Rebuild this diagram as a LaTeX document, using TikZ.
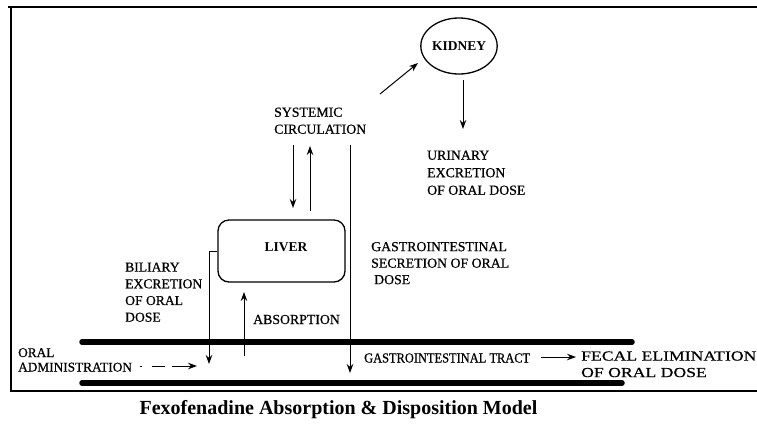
\documentclass[tikz,border=0pt]{standalone}
\usepackage{fontspec}
\setmainfont{Liberation Serif}
\newfontfamily\lblfont[FakeBold=0.6]{Liberation Serif}
\newfontfamily\widefont[FakeStretch=1.28,FakeBold=0.6]{Liberation Serif}
\newfontfamily\narrowfont[FakeStretch=0.9,FakeBold=0.6]{Liberation Serif}
\usetikzlibrary{shapes.geometric,arrows.meta}
\begin{document}
\begin{tikzpicture}[x=1pt,y=-1pt,
  lbl/.style={font=\lblfont\fontsize{13.8}{17}\selectfont, align=left, inner sep=0pt, anchor=north west},
  organ/.style={draw, line width=1.3pt, font=\bfseries\fontsize{13.5}{16}\selectfont, inner sep=0pt},
  arr/.style={-{Stealth[length=9pt,width=6.5pt]}, line width=1pt},
  bar/.style={line width=5.5pt, line cap=round},
  frame/.style={line width=1.2pt}]
\useasboundingbox (0,0) rectangle (757,424);
% frame
\draw[frame] (8,7) -- (757,7);
\draw[frame] (11,7) -- (11,391) -- (757,391);
% organs
\node[organ, ellipse, minimum width=66pt, minimum height=56pt] (kid) at (459,46) {KIDNEY};
\node[organ, rectangle, rounded corners=11pt, minimum width=127pt, minimum height=62pt] (liv) at (281.5,251) {};
\node[font=\bfseries\fontsize{13.5}{16}\selectfont, inner sep=0pt] (livt) at (286,247) {LIVER};
% labels
\node[lbl] (sys) at (274,107.4) {SYSTEMIC\\CIRCULATION};
\node[lbl, font=\lblfont\fontsize{13.8}{17.5}\selectfont] (uri) at (427,150.4) {URINARY\\EXCRETION\\OF ORAL DOSE};
\node[lbl, font=\lblfont\fontsize{13.6}{16.7}\selectfont] (bil) at (125,262.4) {BILIARY\\EXCRETION\\OF ORAL\\DOSE};
\node[lbl, anchor=west] (abs) at (253,319.5) {ABSORPTION};
\node[lbl, font=\lblfont\fontsize{13.8}{16.5}\selectfont] (gis) at (371,241.8) {GASTROINTESTINAL\\SECRETION OF ORAL\\\hspace*{3pt}DOSE};
\node[lbl, font=\lblfont\fontsize{13.3}{14.5}\selectfont] (oral) at (18,348) {ORAL\\ADMINISTRATION};
\node[lbl, anchor=west, font=\narrowfont\fontsize{13.8}{17}\selectfont] (git) at (364,358) {GASTROINTESTINAL TRACT};
\node[lbl, font=\widefont\fontsize{13.8}{16.5}\selectfont] (fec) at (581,351.2) {FECAL ELIMINATION\\OF ORAL DOSE};
\node[font=\bfseries\fontsize{20}{23}\selectfont, inner sep=0pt] (cap) at (338.5,410) {Fexofenadine Absorption \& Disposition Model};
% connector ends
\coordinate (k1) at (380,94);
\coordinate (k2) at (418,63);
\coordinate (u1) at (463,80);
\coordinate (u2) at (463,129);
\coordinate (d1) at (293,145);
\coordinate (d2) at (293,208);
\coordinate (a1) at (310,211);
\coordinate (a2) at (310,146);
\coordinate (g1) at (350,145);
\coordinate (g2) at (350,373);
\coordinate (bt) at (209,364);
\coordinate (ab1) at (244,356);
\coordinate (ab2) at (244,292);
\coordinate (o1) at (140,366);
\coordinate (o2) at (197,366);
\coordinate (f1) at (541,357);
\coordinate (f2) at (576,357);
\coordinate (t1) at (82,342);
\coordinate (t2) at (632,342);
\coordinate (w1) at (82,383);
\coordinate (w2) at (622,383);
% connectors
\draw[arr] (k1) -- (k2);
\draw[arr] (u1) -- (u2);
\draw[arr] (d1) -- (d2);
\draw[arr] (a1) -- (a2);
\draw[arr] (g1) -- (g2);
\draw[arr] (liv.west) -| (bt);
\draw[arr] (ab1) -- (ab2);
\draw[arr, dash pattern=on 1.5pt off 10pt on 13pt off 7pt on 40pt] (o1) -- (o2);
\draw[arr] (f1) -- (f2);
% tract walls
\draw[bar] (t1) -- (t2);
\draw[bar] (w1) -- (w2);
\end{tikzpicture}
\end{document}
